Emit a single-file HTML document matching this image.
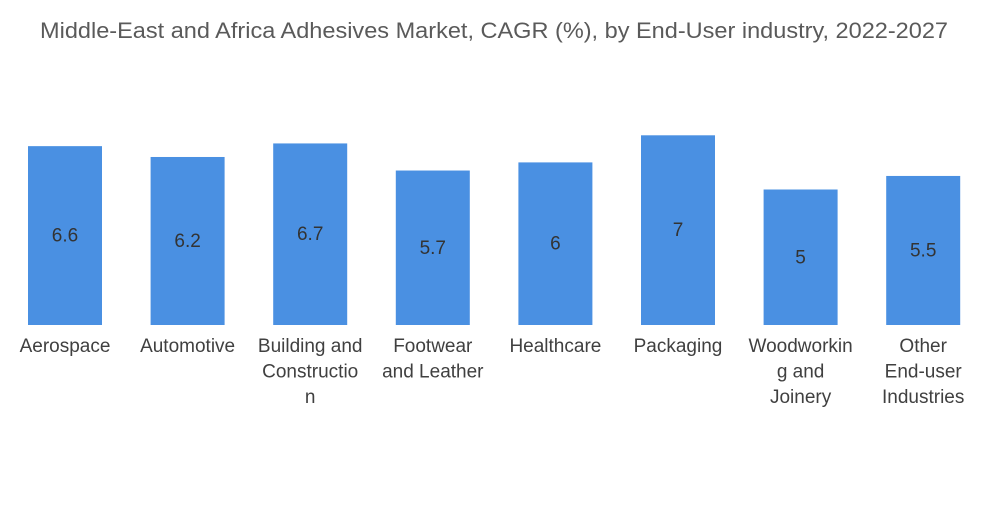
<!DOCTYPE html>
<html><head><meta charset="utf-8"><style>
body{margin:0;background:#fff;font-family:"Liberation Sans",sans-serif;}
svg text{font-family:"Liberation Sans",sans-serif;}
</style></head><body>
<svg width="1000" height="504">
<text x="494" y="38" text-anchor="middle" font-size="22" fill="#5a5a5a" textLength="908" lengthAdjust="spacingAndGlyphs">Middle-East and Africa Adhesives Market, CAGR (%), by End-User industry, 2022-2027</text>
<g id="bars"></g>
</svg>
<script>
const categories=[["Aerospace"],["Automotive"],["Building and","Constructio","n"],["Footwear","and Leather"],["Healthcare"],["Packaging"],["Woodworkin","g and","Joinery"],["Other","End-user","Industries"]];
const values=[6.6,6.2,6.7,5.7,6,7,5,5.5];
const labels=["6.6","6.2","6.7","5.7","6","7","5","5.5"];
const base=325,unit=27.1,x0=65,step=122.6,bw=74;
const xs=i=>x0+i*step, ys=v=>base-v*unit;
const g=document.getElementById('bars');const ns="http://www.w3.org/2000/svg";
values.forEach((v,i)=>{
 const r=document.createElementNS(ns,'rect');
 r.setAttribute('x',xs(i)-bw/2);r.setAttribute('y',ys(v));r.setAttribute('width',bw);r.setAttribute('height',base-ys(v));r.setAttribute('fill','#4a90e2');
 
 
 g.appendChild(r);
 const t=document.createElementNS(ns,'text');
 t.setAttribute('x',xs(i));t.setAttribute('y',(ys(v)+base)/2+6);t.setAttribute('text-anchor','middle');t.setAttribute('font-size','19');t.setAttribute('fill','#333');
 t.textContent=labels[i];
 
 
 g.appendChild(t);
 categories[i].forEach((line,j)=>{
  const c=document.createElementNS(ns,'text');
  c.setAttribute('x',xs(i));c.setAttribute('y',352+j*25.5);c.setAttribute('text-anchor','middle');c.setAttribute('font-size','19');c.setAttribute('fill','#404040');
  c.textContent=line;
  
  
  g.appendChild(c);
 });
});
</script>
</body></html>
